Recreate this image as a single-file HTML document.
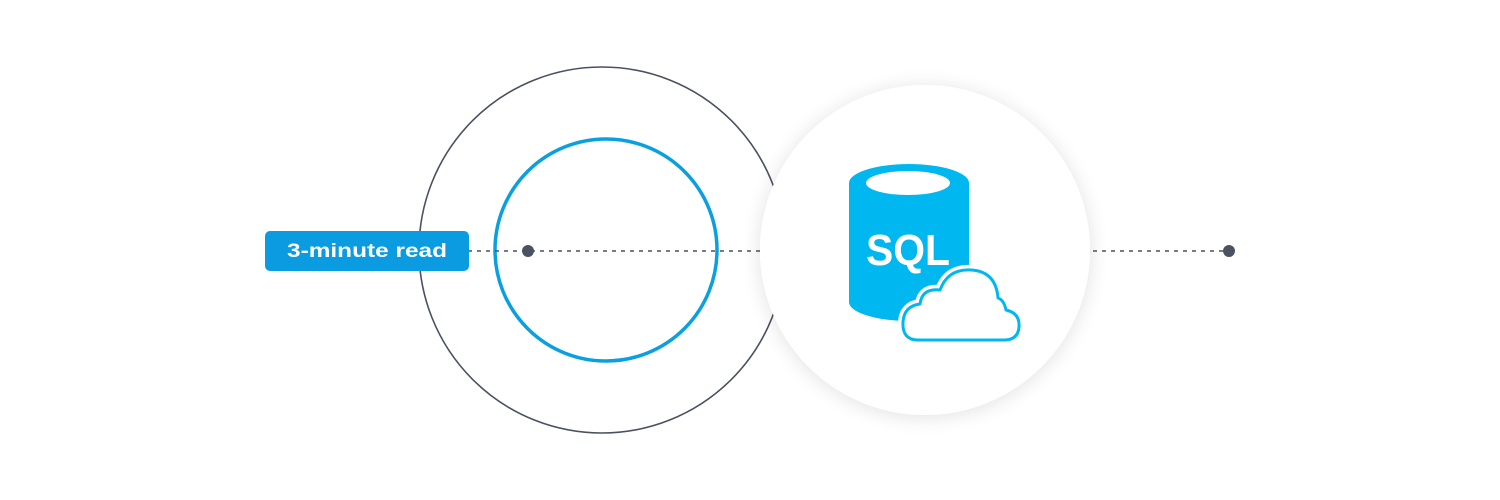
<!DOCTYPE html>
<html><head><style>
body{margin:0;background:#fff;}
svg{display:block}
</style></head><body>
<svg width="1500" height="500" xmlns="http://www.w3.org/2000/svg">
<defs>
<filter id="sh" x="-30%" y="-30%" width="160%" height="160%">
<feGaussianBlur in="SourceAlpha" stdDeviation="10"/>
<feOffset dy="2"/>
<feComponentTransfer><feFuncA type="linear" slope="0.12"/></feComponentTransfer>
<feMerge><feMergeNode/><feMergeNode in="SourceGraphic"/></feMerge>
</filter>
</defs>
<circle cx="602" cy="250" r="183" fill="none" stroke="#4a5160" stroke-width="1.6"/>
<circle cx="606" cy="250" r="111" fill="none" stroke="#0aa0e0" stroke-width="3.5"/>
<line x1="468" y1="251" x2="760" y2="251" stroke="#4a5160" stroke-width="1.6" stroke-dasharray="4,5"/>
<circle cx="528" cy="251" r="6" fill="#4a5160"/>
<circle cx="925" cy="250" r="165" fill="#fff" filter="url(#sh)"/>
<line x1="1093" y1="251" x2="1225" y2="251" stroke="#4a5160" stroke-width="1.6" stroke-dasharray="4,5"/>
<circle cx="1229" cy="251" r="6" fill="#4a5160"/>
<rect x="265" y="231" width="204" height="40" rx="5" fill="#0b9be0"/>
<text x="367" y="257" font-family="Liberation Sans, sans-serif" font-size="19" font-weight="bold" fill="#fff" text-anchor="middle" textLength="160" lengthAdjust="spacingAndGlyphs">3-minute read</text>
<path d="M849 183 A60 19 0 0 1 969 183 L969 302 A60 19 0 0 1 849 302 Z" fill="#00b8ef"/>
<ellipse cx="908" cy="183" rx="42" ry="12" fill="#fff"/>
<text x="866" y="265" font-family="Liberation Sans, sans-serif" font-size="44" font-weight="bold" fill="#fff" textLength="84" lengthAdjust="spacingAndGlyphs">SQL</text>
<path d="M918 340 Q902 340 903 322 Q904 306 920 304 Q922 288 940 290 Q948 268 972 270 Q996 272 998 298 Q1004 300 1006 310 Q1020 313 1019 327 Q1018 340 1004 340 Z" fill="#fff" stroke="#fff" stroke-width="10" stroke-linejoin="round"/>
<path d="M918 340 Q902 340 903 322 Q904 306 920 304 Q922 288 940 290 Q948 268 972 270 Q996 272 998 298 Q1004 300 1006 310 Q1020 313 1019 327 Q1018 340 1004 340 Z" fill="#fff" stroke="#00b8ef" stroke-width="3" stroke-linejoin="round"/>
</svg>
</body></html>
